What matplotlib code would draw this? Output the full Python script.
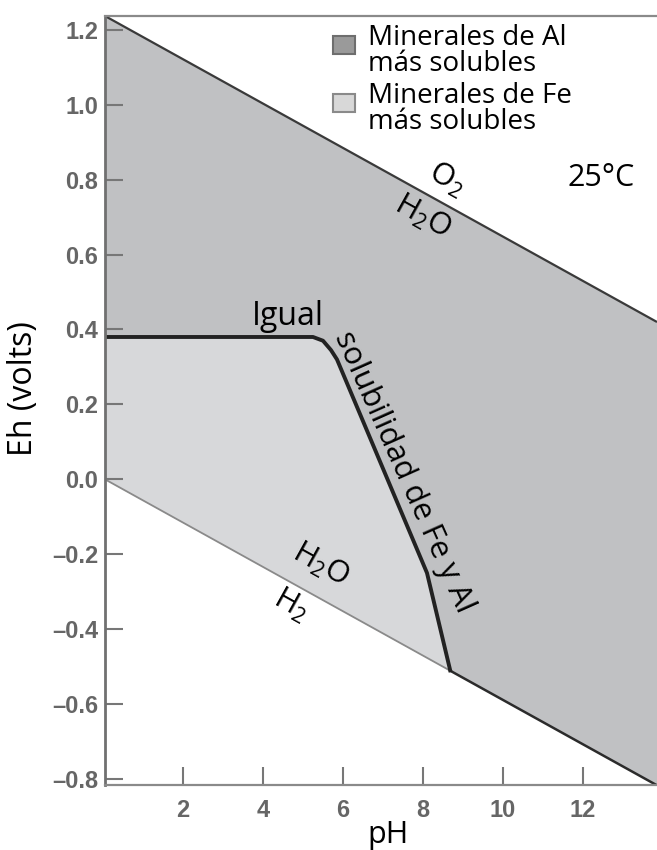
import numpy as np
import matplotlib
matplotlib.use("Agg")
import matplotlib.pyplot as plt
from matplotlib.patches import Patch, Rectangle
from matplotlib.legend_handler import HandlerPatch

plt.rcParams['font.family'] = ['Open Sans', 'DejaVu Sans']
plt.rcParams['mathtext.default'] = 'regular'

# límites del agua (O2/H2O arriba, H2O/H2 abajo)
water_ph = [0.05, 13.85]
o2_eh = [1.237, 0.42]
h2_eh = [0.0, -0.817]

# línea de igual solubilidad de Fe y Al
bnd_ph = [0.05, 5.25, 5.5, 5.7, 5.85, 8.1, 8.68]
bnd_eh = [0.38, 0.38, 0.37, 0.345, 0.32, -0.25, -0.51]

x_ticks = [2, 4, 6, 8, 10, 12]
y_ticks = [-0.8, -0.6, -0.4, -0.2, 0.0, 0.2, 0.4, 0.6, 0.8, 1.0, 1.2]

col_al = '#c0c1c3'
col_fe = '#d7d8da'

fig = plt.figure(figsize=(6.57, 8.5), dpi=100)
ax = fig.add_axes([0.1598, 0.0765, 0.8402, 0.9047])

# regiones
ax.fill_between(water_ph, o2_eh, h2_eh, color=col_al, lw=0)
h2_at_bnd = np.interp(bnd_ph, water_ph, h2_eh)
ax.fill_between(bnd_ph, bnd_eh, h2_at_bnd, color=col_fe, lw=0)

# líneas
ax.plot(water_ph, o2_eh, color='#3a3a3a', lw=1.6, solid_capstyle='butt')
end_ph = bnd_ph[-1]
end_eh = float(np.interp(end_ph, water_ph, h2_eh))
ax.plot([water_ph[0], end_ph], [h2_eh[0], end_eh], color='#8a8a8a', lw=1.3)
ax.plot([end_ph, water_ph[1]], [end_eh, h2_eh[1]], color='#2b2b2b', lw=1.8)
ax.plot(bnd_ph, bnd_eh, color='#222222', lw=2.8, solid_joinstyle='round')

ax.set_xlim(0.05, 13.85)
ax.set_ylim(-0.816, 1.237)
ax.set_xticks(x_ticks)
ax.set_yticks(y_ticks)
ax.set_yticklabels([f"{v:.1f}".replace('-', '\u2013') for v in y_ticks])

for s in ['left', 'bottom', 'top']:
    ax.spines[s].set_color('#8a8a8a')
    ax.spines[s].set_linewidth(1.6)
ax.spines['left'].set_color('#707070')
ax.spines['left'].set_linewidth(2.0)
ax.spines['right'].set_visible(False)

ax.tick_params(direction='in', length=13, width=1.5, color='#777777',
               labelcolor='#666666', labelsize=17)
ax.tick_params(axis='y', pad=5)
ax.tick_params(axis='x', pad=10)
for lab in ax.get_xticklabels() + ax.get_yticklabels():
    lab.set_family('Liberation Sans')
    lab.set_weight('bold')

ax.set_ylabel('Eh (volts)', fontsize=23)
ax.yaxis.set_label_coords(-0.118, 0.515)
ax.set_xlabel('pH', fontsize=22)
ax.xaxis.set_label_coords(0.513, -0.046)

# textos
ax.text(12.45, 0.805, '25°C', fontsize=22, ha='center', va='center')
ax.text(4.63, 0.436, 'Igual', fontsize=23, ha='center', va='center')
ax.text(7.52, 0.02, 'solubilidad de Fe y Al', fontsize=22.5, rotation=-66,
        ha='center', va='center', rotation_mode='anchor')
ax.text(8.6, 0.80, 'O$_2$', fontsize=22, rotation=-29, ha='center', va='center',
        rotation_mode='anchor')
ax.text(8.0, 0.70, 'H$_2$O', fontsize=22, rotation=-29, ha='center', va='center',
        rotation_mode='anchor')
ax.text(5.43, -0.229, 'H$_2$O', fontsize=22, rotation=-29, ha='center', va='center',
        rotation_mode='anchor')
ax.text(4.7, -0.335, 'H$_2$', fontsize=22, rotation=-29, ha='center', va='center',
        rotation_mode='anchor')


def top_square(legend, orig_handle, xdescent, ydescent, width, height, fontsize):
    h = 0.8 * width
    return Rectangle((-xdescent, -ydescent + height - h - 0.12 * fontsize), width, h)


handles = [Patch(facecolor='#9a9a9a', edgecolor='#6e6e6e', lw=1.5),
           Patch(facecolor='#d8d8d8', edgecolor='#8a8a8a', lw=1.5)]
labels = ['Minerales de Al\nmás solubles', 'Minerales de Fe\nmás solubles']
leg = ax.legend(handles, labels, loc='upper left', bbox_to_anchor=(0.413, 0.99),
                frameon=False, fontsize=20, handlelength=0.8, handleheight=1.8,
                handletextpad=0.45, labelspacing=0.15, borderpad=0, borderaxespad=0,
                handler_map={Patch: HandlerPatch(patch_func=top_square)})
for t in leg.get_texts():
    t.set_linespacing(0.9)

fig.savefig('out.png', dpi=100)
